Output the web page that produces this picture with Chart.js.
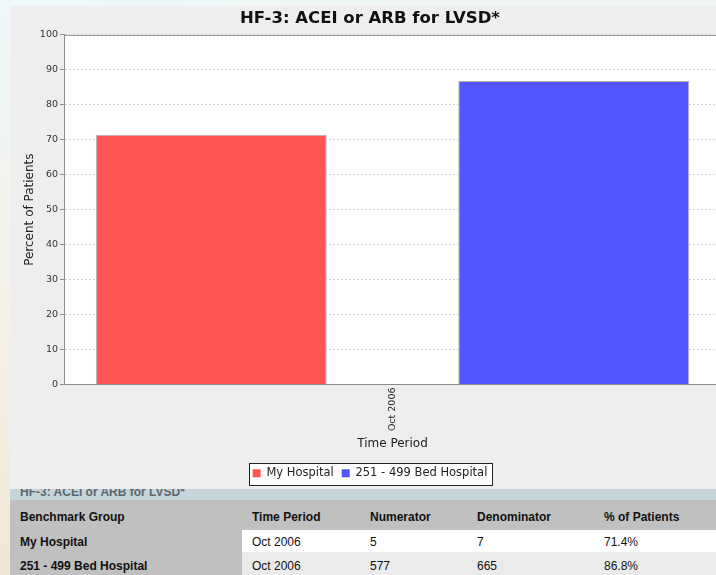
<!DOCTYPE html>
<html>
<head>
<meta charset="utf-8">
<script src="https://cdn.jsdelivr.net/npm/chart.js@4"></script>
<style>
  html, body { margin: 0; padding: 0; }
  body {
    width: 716px; height: 575px; overflow: hidden; position: relative;
    background: linear-gradient(170deg, #eef8fa 0%, #f4f1e6 45%, #efe2cc 100%);
    font-family: "Liberation Sans", Arial, sans-serif;
  }
  #panel { position: absolute; left: 10px; top: 6px; width: 706px; height: 483px; background: #eeeeee; overflow: hidden; }
  #chartBox { position: absolute; left: 0; top: 0; width: 720px; height: 483px; }
  #caption {
    position: absolute; left: 10px; top: 489px; width: 706px; height: 11px; overflow: hidden;
    background: #c6d4db; color: #5b6770; font-weight: bold; font-size: 12px;
  }
  #caption span { position: absolute; left: 10px; top: -4px; line-height: 14px; }
  table { position: absolute; left: 10px; top: 500px; border-collapse: collapse; table-layout: fixed; width: 706px; font-size: 12px; color: #111; }
  td, th { padding: 0 0 0 10px; text-align: left; white-space: nowrap; vertical-align: middle; }
  th { background: #c0c0c0; height: 26px; padding-top: 4px; font-weight: bold; }
  td.group { background: #c0c0c0; font-weight: bold; }
  tr.r0 td { height: 21px; padding-top: 1px; }
  tr.r1 td { height: 19px; padding-top: 4px; }
  tr.r0 td:not(.group) { background: #ffffff; }
  tr.r1 td:not(.group) { background: #ebebeb; }
</style>
</head>
<body>
<div id="panel"><div id="chartBox"><canvas id="c"></canvas></div></div>
<div id="caption"><span id="captionText"></span></div>
<table id="tbl"></table>
<script>
// Measure and benchmark data
const chartTitle = 'HF-3: ACEI or ARB for LVSD*';
const categories = ['Oct 2006'];
const seriesNames = ['My Hospital', '251 - 499 Bed Hospital'];
const percentValues = [71.4, 86.8];
const numerators = [5, 577];
const denominators = [7, 665];
const seriesColors = ['#ff5555', '#5555ff'];
const tableHeaders = ['Benchmark Group', 'Time Period', 'Numerator', 'Denominator', '% of Patients'];
const columnWidths = [232, 118, 107, 127, 122];

// Data table under the chart
document.getElementById('captionText').textContent = chartTitle;
const tbl = document.getElementById('tbl');
const colgroup = document.createElement('colgroup');
columnWidths.forEach(w => { const c = document.createElement('col'); c.style.width = w + 'px'; colgroup.appendChild(c); });
tbl.appendChild(colgroup);
const hr = document.createElement('tr');
tableHeaders.forEach(h => { const th = document.createElement('th'); th.textContent = h; hr.appendChild(th); });
tbl.appendChild(hr);
seriesNames.forEach((name, i) => {
  const tr = document.createElement('tr');
  tr.className = 'r' + i;
  const cells = [name, categories[0], String(numerators[i]), String(denominators[i]), percentValues[i].toFixed(1) + '%'];
  cells.forEach((v, j) => {
    const td = document.createElement('td');
    td.textContent = v;
    if (j === 0) td.className = 'group';
    tr.appendChild(td);
  });
  tbl.appendChild(tr);
});

// White plot area with a solid frame line along the top
const plotBackground = {
  id: 'plotBackground',
  beforeDraw(chart) {
    const { ctx, chartArea: a } = chart;
    ctx.save();
    ctx.fillStyle = '#ffffff';
    ctx.fillRect(a.left, a.top, a.right - a.left, a.bottom - a.top);
    ctx.restore();
  },
  afterDraw(chart) {
    const { ctx, chartArea: a } = chart;
    ctx.save();
    ctx.strokeStyle = '#9a9a9a';
    ctx.lineWidth = 1;
    ctx.beginPath();
    ctx.moveTo(a.left, Math.round(a.top) + 0.5);
    ctx.lineTo(a.right, Math.round(a.top) + 0.5);
    ctx.stroke();
    ctx.restore();
  }
};

// Boxed legend: white fill behind the items and a thin dark outline
const legendFrame = {
  id: 'legendFrame',
  beforeDraw(chart) { this.frame(chart, true); },
  afterDraw(chart) { this.frame(chart, false); },
  frame(chart, fill) {
    const boxes = chart.legend && chart.legend.legendHitBoxes;
    if (!boxes || !boxes.length) return;
    let l = Infinity, t = Infinity, r = -Infinity, b = -Infinity;
    boxes.forEach(h => { l = Math.min(l, h.left); t = Math.min(t, h.top); r = Math.max(r, h.left + h.width); b = Math.max(b, h.top + h.height); });
    const x = Math.round(l - 4) + 0.5, y = Math.round(t - 5) + 0.5;
    const w = Math.round(r - l + 8), hgt = Math.round(b - t + 10);
    const ctx = chart.ctx;
    ctx.save();
    if (fill) { ctx.fillStyle = '#ffffff'; ctx.fillRect(x, y, w, hgt); }
    else { ctx.strokeStyle = '#222222'; ctx.lineWidth = 1; ctx.strokeRect(x, y, w, hgt); }
    ctx.restore();
  }
};

Chart.defaults.font.family = '"DejaVu Sans", sans-serif';
Chart.defaults.color = '#333333';

new Chart(document.getElementById('c'), {
  type: 'bar',
  data: {
    labels: categories,
    datasets: seriesNames.map((name, i) => ({
      label: name,
      data: [percentValues[i]],
      backgroundColor: seriesColors[i],
      borderColor: '#b4b4b4',
      borderWidth: 1,
      categoryPercentage: 1.1035,
      barPercentage: 0.637
    }))
  },
  options: {
    responsive: true,
    maintainAspectRatio: false,
    animation: false,
    layout: { padding: { top: 0, right: 0, bottom: 0, left: 0 } },
    plugins: {
      title: {
        display: true,
        text: chartTitle,
        color: '#111111',
        font: { size: 16.5, weight: 'bold' },
        padding: { top: 3, bottom: 6 }
      },
      legend: {
        position: 'bottom',
        labels: {
          boxWidth: 8,
          boxHeight: 8,
          padding: 8,
          color: '#222222',
          font: { size: 11.5 },
          generateLabels(chart) {
            return Chart.defaults.plugins.legend.labels.generateLabels(chart).map(it => ({ ...it, strokeStyle: it.fillStyle, lineWidth: 0 }));
          }
        }
      },
      tooltip: { enabled: false }
    },
    scales: {
      x: {
        grid: { display: false, drawTicks: false, tickLength: 0 },
        border: { display: true, color: '#8c8c8c' },
        ticks: { minRotation: 90, maxRotation: 90, autoSkip: false, padding: 3, color: '#222222', font: { size: 9.5 } },
        title: { display: true, text: 'Time Period', color: '#222222', font: { size: 12 }, padding: { top: 0, bottom: 8 } },
        afterFit(scale) { scale.height = 75; }
      },
      y: {
        min: 0,
        max: 100,
        ticks: { stepSize: 10, padding: 2, color: '#333333', font: { size: 9.5 } },
        grid: { color: '#d2d2d2', tickColor: '#8c8c8c', tickLength: 4, tickBorderDash: [] },
        border: { display: true, color: '#8c8c8c', dash: [2, 2] },
        title: { display: true, text: 'Percent of Patients', color: '#222222', font: { size: 12 }, padding: { top: 13, bottom: 0 } },
        afterFit(scale) { scale.width = 54; }
      },
      // empty strip on the right so the plot ends where the frame is cut off
      yRight: {
        position: 'right',
        display: true,
        grid: { display: false, drawTicks: false },
        border: { display: false },
        ticks: { display: false },
        afterFit(scale) { scale.width = 9; }
      }
    }
  },
  plugins: [plotBackground, legendFrame]
});
</script>
</body>
</html>
